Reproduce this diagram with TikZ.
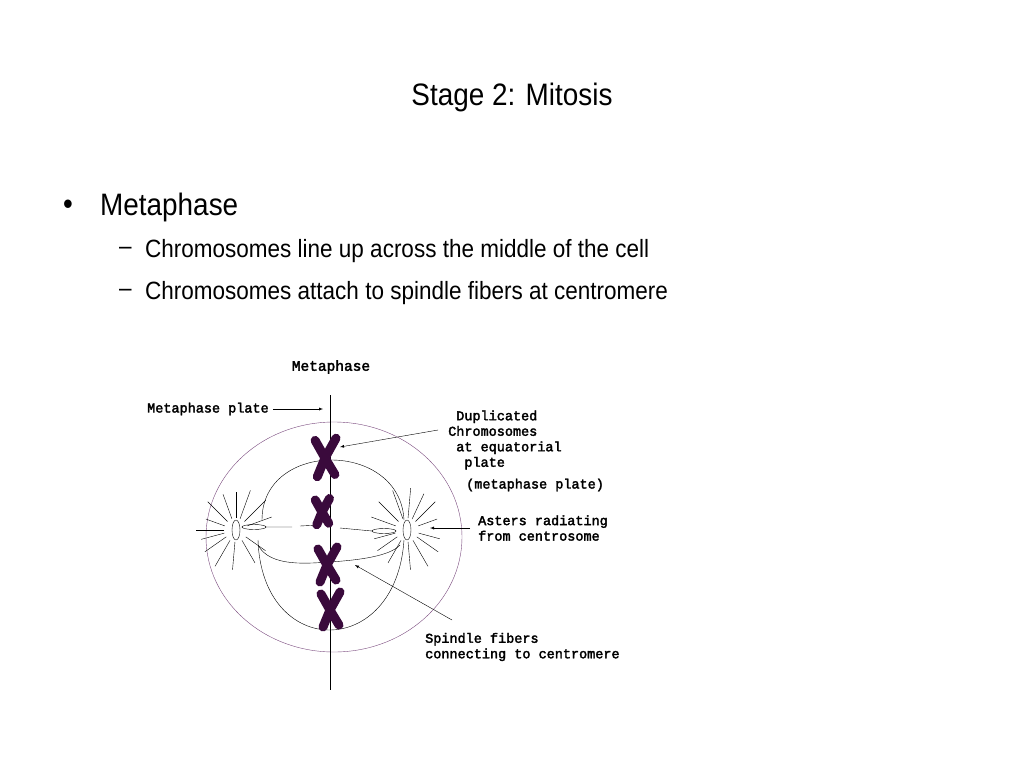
\documentclass[tikz,border=0pt]{standalone}
\usepackage{fontspec}
\setmainfont{Liberation Sans}[FakeStretch=0.9]
\newfontfamily\diafont{Liberation Mono}[FakeBold=2.5]
\usetikzlibrary{arrows}
\definecolor{chromo}{HTML}{3A0A3C}
\definecolor{cellrim}{HTML}{7A4A7E}
\tikzstyle{slide text}=[anchor=west, inner sep=0pt, font=\fontsize{25}{27}\selectfont]
\tikzstyle{label}=[anchor=west, inner sep=0pt, font=\diafont\fontsize{13.5}{15.5}\selectfont]
\tikzstyle{pointer}=[draw, thin, -latex]
\tikzstyle{fiber}=[draw, thin]
\tikzstyle{chromosome}=[draw=chromo, line width=9pt, line cap=round, line join=round]
\begin{document}
\begin{tikzpicture}[x=1pt,y=-1pt]
    \useasboundingbox (0,0) rectangle (1024,768);
    % Slide text
    \node[inner sep=0pt, font=\fontsize{31}{33}\selectfont] (title) at (512,97) {Stage 2: Mitosis};
    \node[inner sep=0pt, font=\fontsize{31}{33}\selectfont] (bullet) at (68,207) {•};
    \node[slide text, font=\fontsize{31}{33}\selectfont] (phase) at (100,207) {Metaphase};
    \node[slide text] (dashA) at (119,251) {–};
    \node[slide text] (lineA) at (145,251) {Chromosomes line up across the middle of the cell};
    \node[slide text] (dashB) at (119,293) {–};
    \node[slide text] (lineB) at (145,293) {Chromosomes attach to spindle fibers at centromere};
    % The cell
    \node[inner sep=0pt, font=\diafont\fontsize{14.5}{15}\selectfont] (heading) at (331,367) {Metaphase};
    \draw[cellrim] (334,537) ellipse [x radius=128, y radius=115];
    \coordinate (plateT) at (330,395);
    \coordinate (plateB) at (330,690);
    \draw (plateT) -- (plateB);
    % Spindle
    \coordinate (poleL) at (236,530);
    \coordinate (poleR) at (407,530);
    \draw (poleL) ellipse [x radius=4, y radius=10];
    \draw (poleR) ellipse [x radius=4, y radius=10];
    \draw (254,527) ellipse [x radius=12, y radius=2.5];
    \draw (384,531) ellipse [x radius=12, y radius=2.5];
    \path[fiber] (266,527) -- (292,527) (300,526) -- (320,525) (340,528) -- (372,531);
    \path[fiber] (262,520) .. controls (262,440) and (400,440) .. (404,520);
    \path[fiber] (258,540) .. controls (262,660) and (396,660) .. (404,540);
    \path[fiber] (258,545) .. controls (270,568) and (310,563) .. (330,562);
    \path[fiber] (330,562) .. controls (360,560) and (390,556) .. (400,545);
    % Asters
    \foreach \ang/\len in {95/28,120/30,145/26,165/24,180/28,200/20,225/28,250/26,270/26,60/26,35/24,-20/26,-45/30,-70/30}
        \path[fiber] (poleL) ++(\ang:12) -- ++(\ang:\len);
    \foreach \ang/\len in {85/28,60/30,35/26,15/22,-20/20,-45/28,-65/28,-85/30,120/26,145/24,165/22,200/26,225/28,250/30}
        \path[fiber] (poleR) ++(\ang:12) -- ++(\ang:\len);
    % Chromosomes
    \foreach \cx/\cy/\s in {325/458/1.1, 322/512/0.75, 327/565/1.0, 330/610/1.0}
        \path[chromosome] (\cx-9*\s,\cy-16*\s) -- (\cx,\cy) -- (\cx+10*\s,\cy-18*\s)
            (\cx-7*\s,\cy+17*\s) -- (\cx,\cy) -- (\cx+9*\s,\cy+15*\s);
    % Labels
    \node[label] (plateLbl) at (147,409) {Metaphase plate};
    \coordinate (plateTip) at (323,409);
    \path[pointer] (plateLbl.east) ++(4,0) -- (plateTip);
    \node[label, align=left] (dupLbl) at (448,440) {\ Duplicated\\Chromosomes\\\ at equatorial\\\ \ plate};
    \node[label] (mpLbl) at (466,485) {(metaphase plate)};
    \coordinate (dupTip) at (340,447);
    \path[pointer] (438,430) -- (dupTip);
    \node[label, align=left] (astLbl) at (478,528) {Asters radiating\\from centrosome};
    \coordinate (astTip) at (430,528);
    \path[pointer] (470,528) -- (astTip);
    \node[label, align=left] (spLbl) at (425,647) {Spindle fibers\\connecting to centromere};
    \coordinate (spTip) at (355,565);
    \path[pointer] (452,620) -- (spTip);
\end{tikzpicture}
\end{document}
